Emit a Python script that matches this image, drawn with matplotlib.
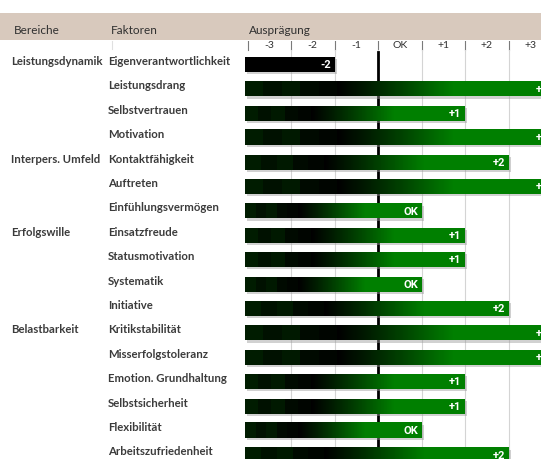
import numpy as np
import matplotlib
matplotlib.use("Agg")
import matplotlib.pyplot as plt
from matplotlib.patches import Rectangle

# ---- data ----
bereiche = ["Leistungsdynamik", "", "", "", "Interpers. Umfeld", "", "", "Erfolgswille", "", "", "",
            "Belastbarkeit", "", "", "", "", ""]
faktoren = ["Eigenverantwortlichkeit", "Leistungsdrang", "Selbstvertrauen", "Motivation",
            "Kontaktfähigkeit", "Auftreten", "Einfühlungsvermögen", "Einsatzfreude",
            "Statusmotivation", "Systematik", "Initiative", "Kritikstabilität",
            "Misserfolgstoleranz", "Emotion. Grundhaltung", "Selbstsicherheit",
            "Flexibilität", "Arbeitszufriedenheit"]
werte = [-2, 3, 1, 3, 2, 3, 0, 1, 1, 0, 2, 3, 3, 1, 1, 0, 2]
scale_vals = [-3, -2, -1, 0, 1, 2, 3]
scale_labels = ["-3", "-2", "-1", "OK", "+1", "+2", "+3"]

W, H = 541, 459
fig = plt.figure(figsize=(W / 100, H / 100), dpi=100)
fig.patch.set_facecolor("white")

def fx(x):
    return x / W

def fy(y):
    return 1 - y / H

TXT = "#3b3b3b"
FONT = "Lato"

# header band
fig.patches.append(Rectangle((0, fy(40)), 1, (40 - 13) / H, transform=fig.transFigure,
                             facecolor="#d8c9bd", edgecolor="none", zorder=0))
fig.text(fx(14), fy(31), "Bereiche", fontsize=8.5, family=FONT, color="#303030", va="center")
fig.text(fx(111), fy(31), "Faktoren", fontsize=8.5, family=FONT, color="#303030", va="center")
fig.text(fx(249), fy(31), "Ausprägung", fontsize=8.5, family=FONT, color="#303030", va="center")
# faint separator under Faktoren
fig.lines.append(plt.Line2D([fx(111.5), fx(111.5)], [fy(41), fy(49)], transform=fig.transFigure,
                            color="#e0e0e0", lw=0.8))

# bar axes
x0_pix, x1_pix = 245, 541
top_pix, bot_pix = 41, 459
row0, rowstep = 64.5, 24.4
col_w = 43.5
xl = -3.5 - (247.5 - x0_pix) / col_w
xr = -3.5 + (x1_pix - 247.5) / col_w
yt = (top_pix - row0) / rowstep
yb = (bot_pix - row0) / rowstep

ax = fig.add_axes([fx(x0_pix), fy(bot_pix), (x1_pix - x0_pix) / W, (bot_pix - top_pix) / H])
ax.set_xlim(xl, xr)
ax.set_ylim(yb, yt)
ax.axis("off")

# header separators and tick labels
sep_top, sep_bot = yt, (50 - row0) / rowstep
for b in np.arange(-3.5, 3.6, 1.0):
    ax.plot([b, b], [sep_top, sep_bot], color="#7a7a7a", lw=0.8, zorder=1, clip_on=True)
    if b != -3.5:
        ax.plot([b, b], [sep_bot, yb], color="#d4d4d4", lw=0.8, zorder=1)
for v, lab in zip(scale_vals, scale_labels):
    ax.text(v, (45.5 - row0) / rowstep, lab, ha="center", va="center", fontsize=7.5,
            family=FONT, color="#303030")
ax.text(0, (30 - row0) / rowstep, "↓", ha="center", va="center", fontsize=10,
        family="DejaVu Sans", color="#303030")
# OK reference line
ax.plot([-0.5, -0.5], [(52 - row0) / rowstep, yb], color="black", lw=2.0, zorder=2)

bar_h = 15 / rowstep
bar_left = -3.5 - 2.5 / col_w
sx, sy = 2.2 / col_w, 2.2 / rowstep
block_g = [0.11, 0.07, 0.10, 0.04, 0.02]

def grad_image(n=300):
    t = np.linspace(0, 1, n)
    g = 0.5 * np.clip((t - 0.3) / 0.38, 0, 1) ** 1.1
    blk = np.minimum((t / 0.06).astype(int), len(block_g) - 1)
    band = np.array(block_g)[blk] * (t < 0.3)
    g = np.maximum(g, band)
    img = np.zeros((1, n, 3))
    img[0, :, 1] = g
    return img

for i, (b, f, v) in enumerate(zip(bereiche, faktoren, werte)):
    ypix = row0 + rowstep * i
    if b:
        fig.text(fx(11), fy(ypix - 3), b, fontsize=8.2, family=FONT, weight="bold",
                 color=TXT, va="center")
    fig.text(fx(108), fy(ypix - 3), f, fontsize=8.2, family=FONT, weight="bold",
             color=TXT, va="center")
    right = v + 0.5
    # shadow
    ax.add_patch(Rectangle((bar_left + sx, i - bar_h / 2 + sy), right - bar_left, bar_h,
                           facecolor="#9a9a9a", alpha=0.45, edgecolor="none", zorder=3))
    if v < 0:
        ax.add_patch(Rectangle((bar_left, i - bar_h / 2), right - bar_left, bar_h,
                               facecolor="black", edgecolor="none", zorder=4))
    else:
        ax.imshow(grad_image(), aspect="auto",
                  extent=(bar_left, right, i + bar_h / 2, i - bar_h / 2),
                  interpolation="nearest", zorder=4)
    lab = scale_labels[scale_vals.index(v)]
    ax.text(right - 3.5 / col_w, i + 0.03, lab, ha="right", va="center", fontsize=8,
            family="Roboto", weight="bold",
            color="white", zorder=5, clip_on=True)

ax.set_xlim(xl, xr)
ax.set_ylim(yb, yt)
fig.savefig("out.png", dpi=100)
